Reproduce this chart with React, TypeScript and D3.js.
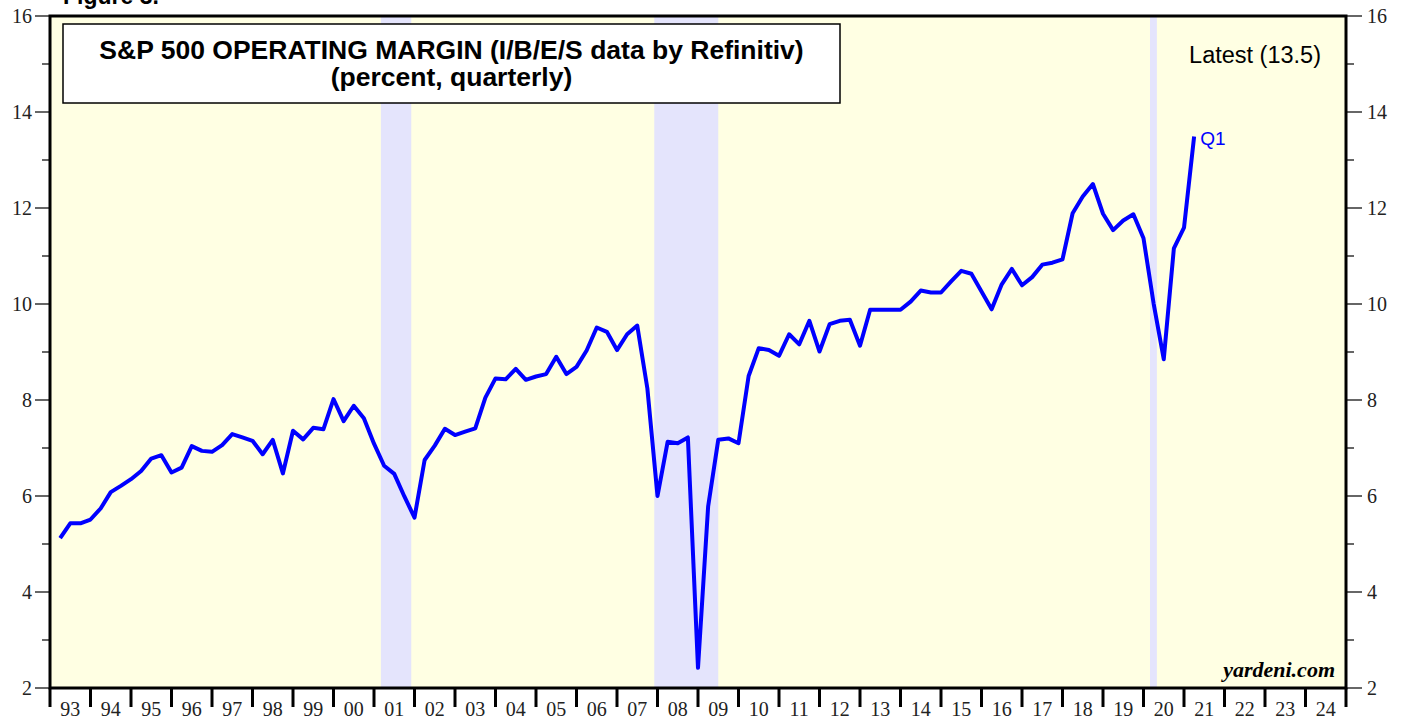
import React from "react";
import * as d3 from "d3";

// S&P 500 operating margin, quarterly, 1993 Q1 .. 2021 Q1
const startYear = 1993;
const margins = [
  5.12, 5.43, 5.43, 5.51,
  5.74, 6.08, 6.21, 6.35,
  6.52, 6.78, 6.85, 6.49,
  6.59, 7.04, 6.94, 6.92,
  7.06, 7.29, 7.22, 7.15,
  6.87, 7.17, 6.47, 7.36,
  7.18, 7.42, 7.39, 8.02,
  7.56, 7.88, 7.62, 7.09,
  6.63, 6.46, 5.99, 5.55,
  6.75, 7.05, 7.40, 7.27,
  7.34, 7.41, 8.05, 8.45,
  8.43, 8.65, 8.42, 8.49,
  8.54, 8.90, 8.54, 8.69,
  9.03, 9.51, 9.42, 9.04,
  9.37, 9.55, 8.24, 6.00,
  7.13, 7.10, 7.22, 2.42,
  5.78, 7.17, 7.20, 7.10,
  8.50, 9.08, 9.04, 8.92,
  9.37, 9.16, 9.65, 9.01,
  9.58, 9.65, 9.67, 9.13,
  9.88, 9.88, 9.88, 9.88,
  10.05, 10.28, 10.24, 10.24,
  10.47, 10.69, 10.63, 10.26,
  9.89, 10.41, 10.73, 10.39,
  10.56, 10.82, 10.86, 10.93,
  11.89, 12.24, 12.50, 11.88,
  11.54, 11.74, 11.87, 11.37,
  10.01, 8.85, 11.16, 11.59,
  13.49,
];

// recessions (decimal years)
const recessionStart = [2001.17, 2007.92, 2020.16];
const recessionEnd = [2001.92, 2009.5, 2020.33];

const yearTicks = d3.range(1993, 2026);
const yearLabels = d3.range(1993, 2025).map((y) => String(y % 100).padStart(2, "0"));
const yMajor = [2, 4, 6, 8, 10, 12, 14, 16];
const yMinor = [3, 5, 7, 9, 11, 13, 15];

const W = 1405, H = 719;
const left = 50, right = 1346, top = 16, bottom = 688;

export default function App() {
  const x = d3.scaleLinear().domain([1993, 2025]).range([left, right]);
  const y = d3.scaleLinear().domain([2, 16]).range([bottom, top]);

  const pts = margins.map((v, i) => [startYear + (i + 1) / 4, v] as [number, number]);
  const line = d3.line<[number, number]>()
    .x((d) => x(d[0]))
    .y((d) => y(d[1]));

  const last = pts[pts.length - 1];
  const serif = "'Liberation Serif', 'Times New Roman', serif";
  const sans = "'Liberation Sans', Arial, sans-serif";

  return (
    <svg width={W} height={H} style={{ display: "block" }}>
      <style>{`body{margin:0}`}</style>
      <rect x={0} y={0} width={W} height={H} fill="#fff" />
      <text x={63} y={4} fontFamily={sans} fontWeight="bold" fontSize={23}>Figure 3.</text>

      <rect x={left} y={top} width={right - left} height={bottom - top} fill="#ffffe3" />
      {recessionStart.map((s, i) => (
        <rect key={i} x={x(s)} y={top} width={x(recessionEnd[i]) - x(s)} height={bottom - top} fill="#e4e4fc" />
      ))}

      <path d={line(pts) || ""} fill="none" stroke="#0000ff" strokeWidth={4} strokeLinejoin="round" />

      {/* title box */}
      <rect x={63} y={24} width={777} height={79} fill="#fff" stroke="#000" strokeWidth={1.5} />
      <text x={451.5} y={59} textAnchor="middle" fontFamily={sans} fontWeight="bold" fontSize={26.5}>
        S&amp;P 500 OPERATING MARGIN (I/B/E/S data by Refinitiv)
      </text>
      <text x={451.5} y={86} textAnchor="middle" fontFamily={sans} fontWeight="bold" fontSize={26.5}>
        (percent, quarterly)
      </text>

      <text x={1321} y={63} textAnchor="end" fontFamily={sans} fontSize={23.5}>Latest (13.5)</text>
      <text x={x(last[0]) + 6} y={y(last[1]) + 9} fontFamily={sans} fontSize={19} fill="#0000ff">Q1</text>
      <text x={1335} y={677} textAnchor="end" fontFamily={serif} fontWeight="bold" fontStyle="italic" fontSize={22}>
        yardeni.com
      </text>

      {/* frame */}
      <rect x={left} y={top} width={right - left} height={bottom - top} fill="none" stroke="#000" strokeWidth={3} />

      {/* y axes */}
      {yMajor.map((v) => (
        <g key={"M" + v}>
          <line x1={35} x2={left} y1={y(v)} y2={y(v)} stroke="#000" strokeWidth={1.2} />
          <line x1={right} x2={1362} y1={y(v)} y2={y(v)} stroke="#000" strokeWidth={1.2} />
          <text x={32} y={y(v)} dy="0.35em" textAnchor="end" fontFamily={serif} fontSize={20} fill="#222">{v}</text>
          <text x={1367} y={y(v)} dy="0.35em" fontFamily={serif} fontSize={20} fill="#222">{v}</text>
        </g>
      ))}
      {yMinor.map((v) => (
        <g key={"m" + v}>
          <line x1={42} x2={left} y1={y(v)} y2={y(v)} stroke="#000" strokeWidth={1.2} />
          <line x1={right} x2={1354} y1={y(v)} y2={y(v)} stroke="#000" strokeWidth={1.2} />
        </g>
      ))}

      {/* x axis */}
      {yearTicks.map((t) => (
        <line key={t} x1={x(t)} x2={x(t)} y1={bottom} y2={707} stroke="#000" strokeWidth={3} />
      ))}
      {yearLabels.map((l, i) => (
        <text key={l} x={x(1993 + i + 0.5)} y={716} textAnchor="middle" fontFamily={serif} fontSize={20} fill="#222">{l}</text>
      ))}
    </svg>
  );
}
